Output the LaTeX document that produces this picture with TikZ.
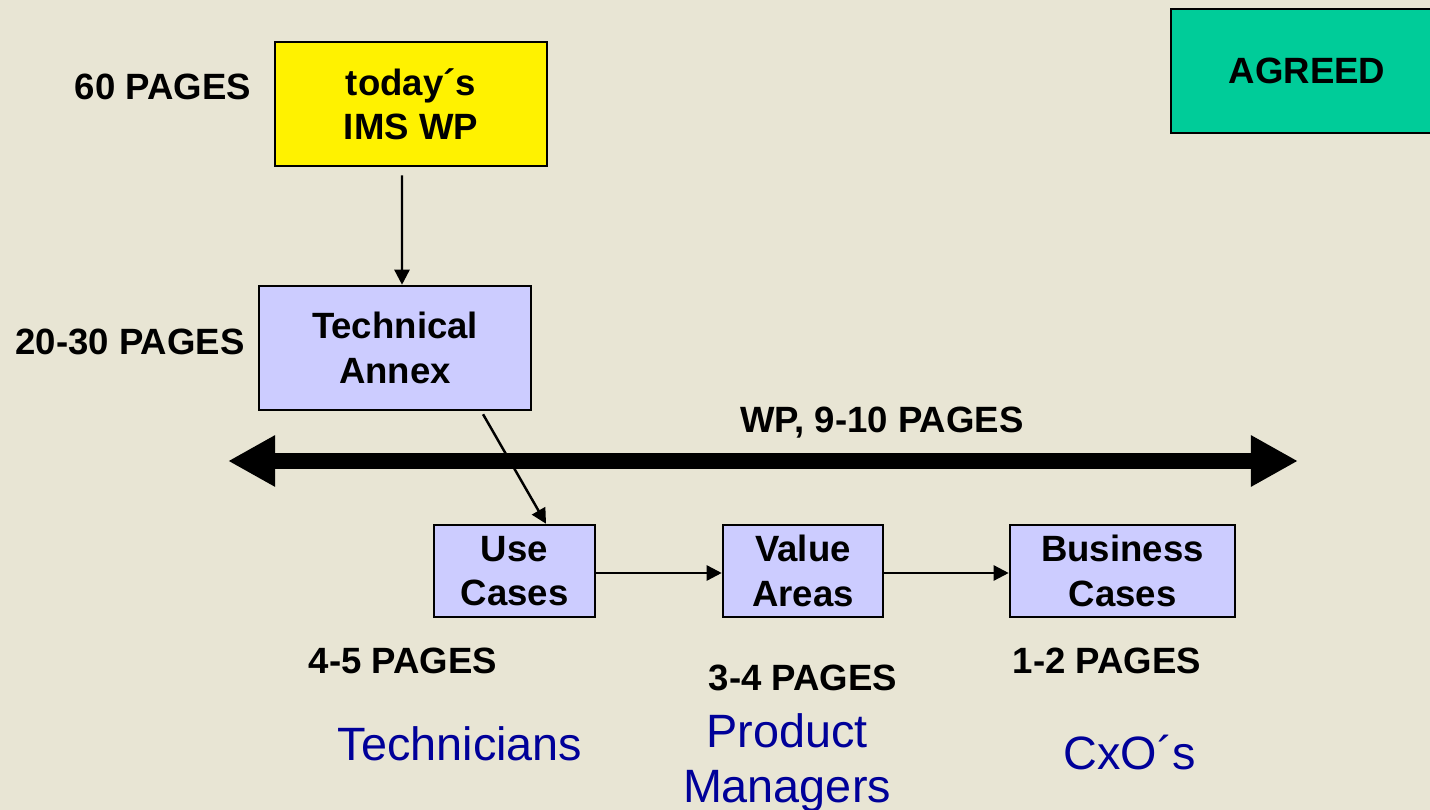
\documentclass[tikz,border=0pt]{standalone}
\usepackage{fontspec}
\setmainfont{Liberation Sans}
\usetikzlibrary{arrows.meta}

\definecolor{bg}{rgb}{0.91,0.90,0.83}
\definecolor{lavender}{rgb}{0.8,0.8,1}
\definecolor{agreedgreen}{rgb}{0,0.8,0.6}
\definecolor{darkblue}{rgb}{0,0,0.6}

\tikzset{
    pagebox/.style={draw, line width=0.7pt, align=center, inner sep=0pt,
        font=\fontsize{10.4}{12.6}\selectfont\bfseries},
    pagelabel/.style={font=\fontsize{10.4}{12.6}\selectfont\bfseries},
    reader/.style={text=darkblue, align=center, font=\fontsize{13.3}{15.8}\selectfont},
    thinarrow/.style={line width=0.7pt, -{Triangle[length=0.15cm,width=0.15cm]}}
}

\begin{document}
\begin{tikzpicture}[x=0.01cm,y=-0.01cm]
                \useasboundingbox[fill=bg] (0,0) rectangle (1430,810);
                % boxes
                \node[pagebox, fill=agreedgreen, minimum width=2.72cm, minimum height=1.24cm] (agreed) at (1307,71) {AGREED};
                \node[pagebox, fill=yellow, minimum width=2.72cm, minimum height=1.24cm] (today) at (411,104) {today´s\\IMS WP};
                \node[pagebox, fill=lavender, minimum width=2.72cm, minimum height=1.24cm] (annex) at (395,348) {Technical\\Annex};
                \node[pagebox, fill=lavender, minimum width=1.61cm, minimum height=0.92cm] (usecases) at (514.5,571) {Use\\Cases};
                \node[pagebox, fill=lavender, minimum width=1.60cm, minimum height=0.92cm] (valueareas) at (803,571) {Value\\Areas};
                \node[pagebox, fill=lavender, minimum width=2.25cm, minimum height=0.92cm] (business) at (1122.5,571) {Business\\Cases};
                % page counts
                \node[pagelabel] (p60) at (163,87) {60 PAGES};
                \node[pagelabel] (p2030) at (130,342) {20-30 PAGES};
                \node[pagelabel] (pwp) at (882,423) {WP, 9-10 PAGES};
                \node[pagelabel] (p45) at (403,661) {4-5 PAGES};
                \node[pagelabel] (p34) at (803,678) {3-4 PAGES};
                \node[pagelabel] (p12) at (1107,661) {1-2 PAGES};
                % readers
                \node[reader] (technicians) at (460,744) {Technicians};
                \node[reader] (managers) at (787,763) {Product\\Managers};
                \node[reader] (cxos) at (1130,753) {CxO´s};
                % flow
                \draw[thinarrow] ([xshift=-0.09cm,yshift=-0.08cm]today.south) -- ([xshift=0.07cm]annex.north);
                \draw[thinarrow] ([xshift=0.88cm,yshift=-0.03cm]annex.south) -- ([xshift=0.315cm]usecases.north);
                \draw[thinarrow] ([yshift=-0.02cm]usecases.east) -- ([yshift=-0.02cm]valueareas.west);
                \draw[thinarrow] ([yshift=-0.02cm]valueareas.east) -- ([yshift=-0.02cm]business.west);
                % WP span
                \coordinate (wpleft) at (228,461);
                \coordinate (wpright) at (1298,461);
                \draw[line width=0.16cm, {Triangle[length=0.47cm,width=0.48cm]}-{Triangle[length=0.47cm,width=0.48cm]}] (wpleft) -- (wpright);
            \end{tikzpicture}
\end{document}
